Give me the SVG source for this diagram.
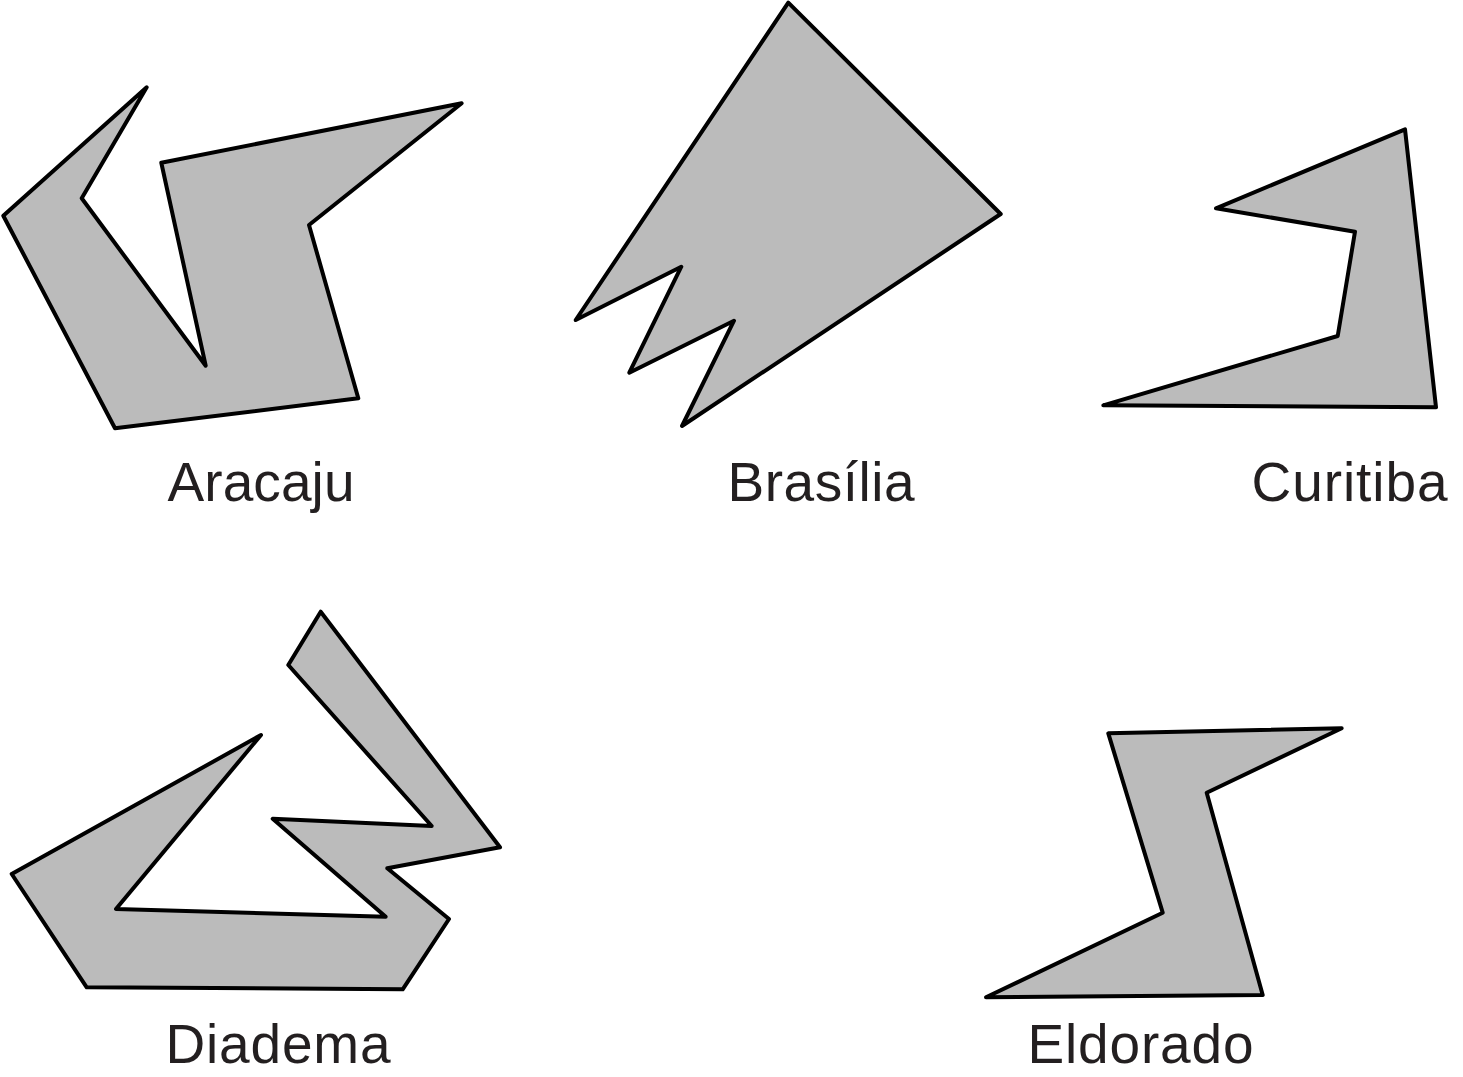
<svg xmlns="http://www.w3.org/2000/svg" width="1463" height="1077" viewBox="0 0 1463 1077">
<style>
.shape{fill:#bbbbbb;stroke:#000;stroke-width:4;stroke-linejoin:round}
.lbl{font-family:"Liberation Sans",Arial,Helvetica,sans-serif;font-size:55px;fill:#231f20;text-anchor:middle}
</style>
<rect width="1463" height="1077" fill="#fff"/>
<g id="aracaju">
<polygon class="shape" points="146.7,87.3 81.7,198.3 205.7,365.7 161.3,162.7 461.7,103.3 309,225 358.3,398.3 115,428.3 3.3,215.7"/>
<text class="lbl" x="261" y="500.5" textLength="187" lengthAdjust="spacing">Aracaju</text>
</g>
<g id="brasilia">
<polygon class="shape" points="788.3,2.7 1000.7,214 682,426 734,320.7 629.3,372.7 681.3,266.7 575.7,320"/>
<text class="lbl" x="821" y="500.5" textLength="187" lengthAdjust="spacing">Brasília</text>
</g>
<g id="curitiba">
<polygon class="shape" points="1405,129.3 1436,407.3 1103.3,405.3 1337.7,336 1355,231.7 1216,208.3"/>
<text class="lbl" x="1349.5" y="500.5" textLength="196" lengthAdjust="spacing">Curitiba</text>
</g>
<g id="diadema">
<polygon class="shape" points="320.7,611.7 500,847.3 387.3,868.3 449,919 402.7,989.3 86.7,987.3 11.7,874 261,735 116,909 385.7,916.7 272.7,818.7 431.7,826 288.3,665"/>
<text class="lbl" x="278" y="1062.5" textLength="225" lengthAdjust="spacing">Diadema</text>
</g>
<g id="eldorado">
<polygon class="shape" points="1108.3,733.3 1341.7,728.3 1206.7,792.7 1262.7,995 986,997.3 1162.7,912.7"/>
<text class="lbl" x="1140.5" y="1062.5" textLength="226" lengthAdjust="spacing">Eldorado</text>
</g>
<g id="connectors"/>
</svg>
